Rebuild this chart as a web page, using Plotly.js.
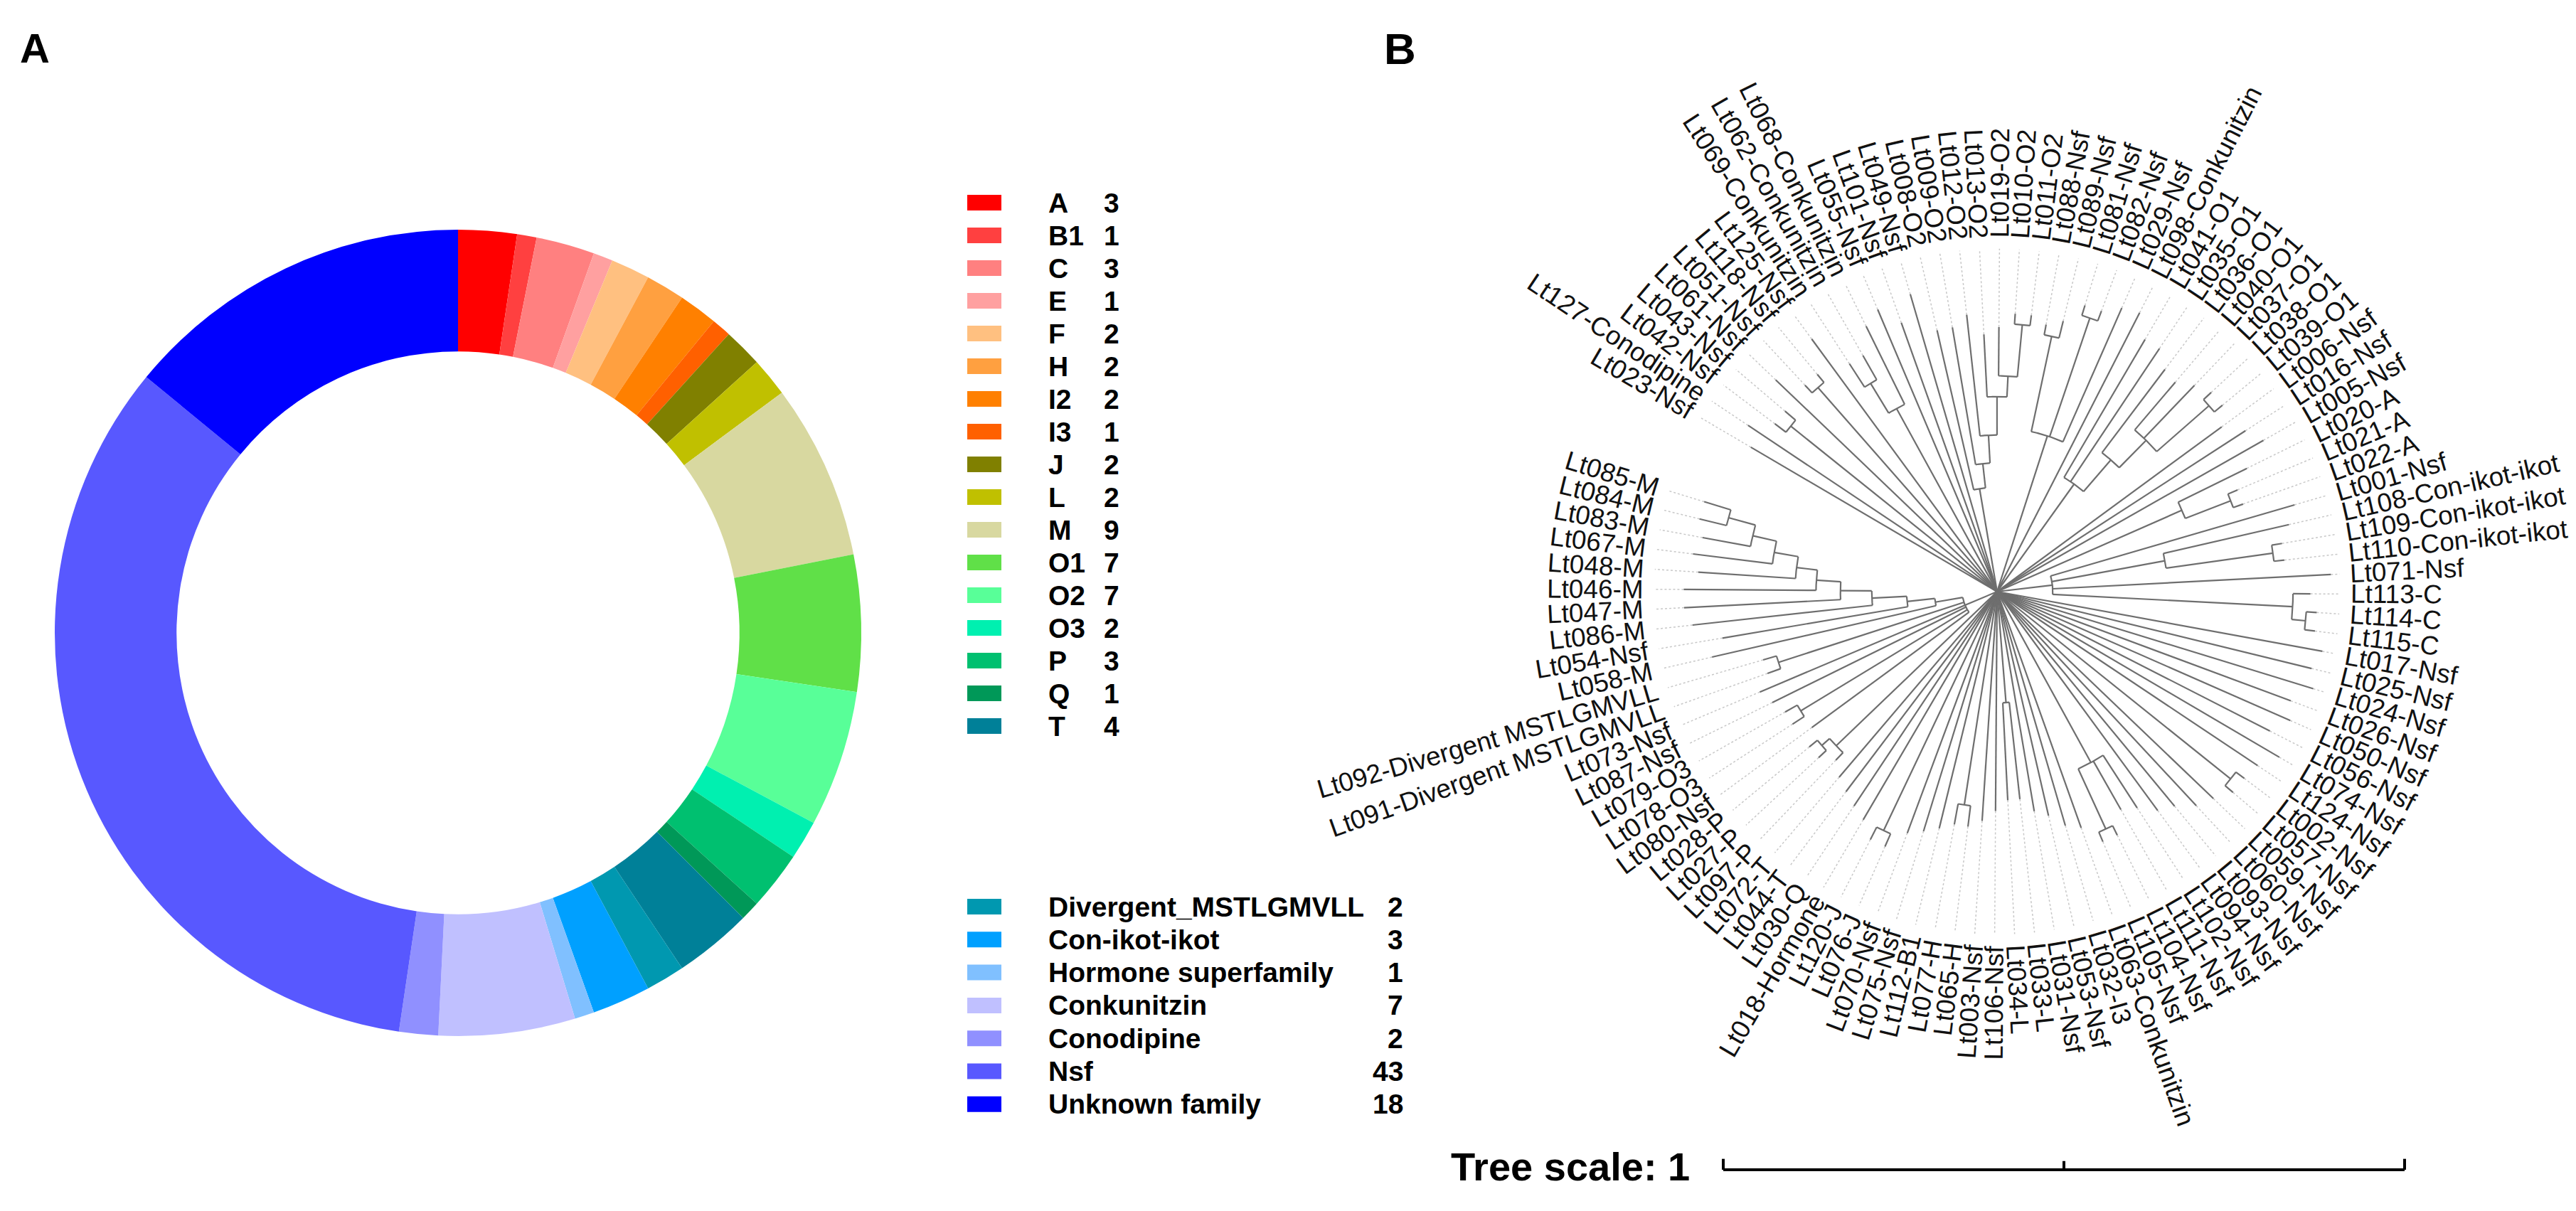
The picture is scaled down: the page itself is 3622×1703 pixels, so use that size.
<!DOCTYPE html>
<html><head><meta charset="utf-8">
<script src="https://cdn.plot.ly/plotly-3.0.1.min.js"></script>
<style>html,body{margin:0;padding:0;background:#fff}#chart{width:3622px;height:1703px}</style>
</head><body><div id="chart"></div>
<script>
// ---------------- Panel A data (donut) ----------------
const families = ["A","B1","C","E","F","H","I2","I3","J","L","M","O1","O2","O3","P","Q","T",
  "Divergent_MSTLGMVLL","Con-ikot-ikot","Hormone superfamily","Conkunitzin","Conodipine","Nsf","Unknown family"];
const counts = [3,1,3,1,2,2,2,1,2,2,9,7,7,2,3,1,4, 2,3,1,7,2,43,18];
const familyColors = ["#ff0000","#ff4040","#ff8080","#ffa0a0","#ffc080","#ffa040","#ff8000","#ff6000",
  "#808000","#c0c000","#d8d8a0","#60e048","#58ff98","#00f0b0","#00c070","#009858","#008098",
  "#0098b0","#00a0ff","#80c0ff","#c0c0ff","#9090ff","#5858ff","#0000ff"];
const firstBlockSize = 17;

// ---------------- Panel B data (tree) ----------------
const leafLabels = ["Lt023-Nsf","Lt127-Conodipine","Lt042-Nsf","Lt043-Nsf","Lt061-Nsf","Lt051-Nsf","Lt118-Nsf","Lt125-Nsf",
 "Lt069-Conkunitzin","Lt062-Conkunitzin","Lt068-Conkunitzin","Lt055-Nsf","Lt101-Nsf","Lt049-Nsf",
 "Lt008-O2","Lt009-O2","Lt012-O2","Lt013-O2","Lt019-O2","Lt010-O2","Lt011-O2",
 "Lt088-Nsf","Lt089-Nsf","Lt081-Nsf","Lt082-Nsf","Lt029-Nsf","Lt098-Conkunitzin",
 "Lt041-O1","Lt035-O1","Lt036-O1","Lt040-O1","Lt037-O1","Lt038-O1","Lt039-O1",
 "Lt006-Nsf","Lt016-Nsf","Lt005-Nsf","Lt020-A","Lt021-A","Lt022-A","Lt001-Nsf",
 "Lt108-Con-ikot-ikot","Lt109-Con-ikot-ikot","Lt110-Con-ikot-ikot","Lt071-Nsf","Lt113-C","Lt114-C","Lt115-C",
 "Lt017-Nsf","Lt025-Nsf","Lt024-Nsf","Lt026-Nsf","Lt050-Nsf","Lt056-Nsf","Lt074-Nsf","Lt124-Nsf",
 "Lt002-Nsf","Lt057-Nsf","Lt059-Nsf","Lt060-Nsf","Lt093-Nsf","Lt094-Nsf","Lt102-Nsf","Lt111-Nsf","Lt104-Nsf","Lt105-Nsf",
 "Lt063-Conkunitzin","Lt032-I3","Lt053-Nsf","Lt031-Nsf","Lt033-L","Lt034-L","Lt106-Nsf","Lt003-Nsf",
 "Lt065-H","Lt077-H","Lt112-B1","Lt075-Nsf","Lt070-Nsf","Lt076-J","Lt120-J","Lt018-Hormone",
 "Lt030-Q","Lt044-T","Lt072-T","Lt097-P","Lt027-P","Lt028-P","Lt080-Nsf","Lt078-O3","Lt079-O3",
 "Lt087-Nsf","Lt073-Nsf","Lt091-Divergent MSTLGMVLL","Lt092-Divergent MSTLGMVLL",
 "Lt058-M","Lt054-Nsf","Lt086-M","Lt047-M","Lt046-M","Lt048-M","Lt067-M","Lt083-M","Lt084-M","Lt085-M"];
// tip depth of each leaf, as a fraction of the label-circle radius
const tipDepth = [.82,.86,.80,.80,.88,.81,.81,.90,.78,.78,.85,.88,.82,.89,
 .77,.77,.80,.74,.76,.80,.80, .78,.80,.86,.86,.89,.90, .84,.84,.80,.79,.82,.84,.84,
 .80,.85,.88,.80,.75,.75,.89, .86,.83,.83,.96,.90,.92,.92, .95,.93,.95,.90,.92,.88,.94,.90,
 .89,.89,.86,.84,.80,.78,.74,.72,.78,.78, .72,.70,.66,.64,.60,.60,.63,.66,
 .68,.68,.70,.72,.74,.80,.80,.76, .74,.72,.70,.67,.70,.70,.66,.70,.70,
 .72,.74,.70,.70, .84,.80,.88,.90,.90,.86,.88,.86,.88,.88];
// internal nodes: [first leaf, last leaf, node depth (fraction of label radius)]
const clades = [[2,3,.76],[5,6,.78],[8,9,.70],[8,10,.60],
 [14,20,.30],[15,20,.37],[16,20,.45],[17,20,.56],[18,20,.62],[19,20,.77],
 [21,22,.75],[23,24,.83],[21,25,.47],
 [27,33,.38],[29,33,.50],[30,33,.61],[32,33,.81],
 [37,39,.58],[38,39,.72],[41,43,.49],[42,43,.80],[45,47,.85],[46,47,.89],[40,47,.16],
 [56,57,.86],[64,65,.75],[62,65,.56],
 [70,71,.32],[74,75,.62],[79,80,.76],[86,87,.67],[85,87,.64],[89,90,.66],[93,94,.66],
 [95,104,.18],[96,104,.26],[97,104,.36],[98,104,.45],[99,104,.52],[100,104,.58],[101,104,.65],[102,104,.72],[103,104,.80],
 [88,104,.10]];
const treeScale = 1;

// ---------------- layout constants ----------------
const W = 3622, H = 1703;
const treeCenterPx = [2808, 832];
const pxPerUnit = 958;           // length of the tree-scale bar
const labelRadius = 0.511;       // tree units
const arcDegrees = 350, startAngle = 149.6;
const labelFontPx = 37;

// ---------------- donut ----------------
const donutC = [644, 890], donutR = 567;
const pie = {
  type:'pie', labels:families, values:counts, sort:false, direction:'clockwise', rotation:0,
  hole:0.698, textinfo:'none', hoverinfo:'skip',
  marker:{colors:familyColors, line:{width:0}},
  domain:{x:[(donutC[0]-donutR)/W,(donutC[0]+donutR)/W], y:[(H-donutC[1]-donutR)/H,(H-donutC[1]+donutR)/H]}
};

// ---------------- tree geometry ----------------
const N = leafLabels.length, step = arcDegrees / N;
const ang = leafLabels.map((_,i)=>startAngle - i*step);
const R = labelRadius;
const cl = clades.map(([a,b,r],k)=>({a,b,r,k,size:b-a}));
function parentOfRange(a,b,self){
  let best=null;
  cl.forEach(c=>{ if(c===self) return; if(c.a<=a && c.b>=b && (c.size>(self?self.size:-1)) && !(self && c.a===self.a && c.b===self.b)){
      if(!best || c.size<best.size) best=c; }});
  return best;
}
cl.forEach(c=>{ c.parent = parentOfRange(c.a,c.b,c); });
const leafParent = ang.map((_,i)=>parentOfRange(i,i,null));
[...cl].sort((p,q)=>p.size-q.size).forEach(c=>{
  const ch=[];
  for(let i=c.a;i<=c.b;i++) if(leafParent[i]===c) ch.push(ang[i]);
  cl.forEach(d=>{ if(d.parent===c) ch.push(d.angle); });
  c.min=Math.min(...ch); c.max=Math.max(...ch); c.angle=(c.min+c.max)/2;
});
const bx=[], by=[], lx=[], ly=[];
const rad = t=>t*Math.PI/180;
function seg(X,Y,r1,r2,t){ X.push(r1*R*Math.cos(rad(t)), r2*R*Math.cos(rad(t)), null); Y.push(r1*R*Math.sin(rad(t)), r2*R*Math.sin(rad(t)), null); }
function arc(r,t1,t2){ const n=Math.max(2,Math.ceil(Math.abs(t2-t1)/0.4)+1);
  for(let j=0;j<n;j++){ const t=t1+(t2-t1)*j/(n-1); bx.push(r*R*Math.cos(rad(t))); by.push(r*R*Math.sin(rad(t))); }
  bx.push(null); by.push(null); }
ang.forEach((t,i)=>{ const p=leafParent[i]; seg(bx,by,p?p.r:0,tipDepth[i],t);
  if(tipDepth[i]<0.975) seg(lx,ly,tipDepth[i],0.985,t); });
cl.forEach(c=>{ seg(bx,by,c.parent?c.parent.r:0,c.r,c.angle); arc(c.r,c.min,c.max); });

const branches = {type:'scatter',mode:'lines',x:bx,y:by,xaxis:'x2',yaxis:'y2',hoverinfo:'skip',
  line:{color:'#6e6e6e',width:2.2}};
const leaders = {type:'scatter',mode:'lines',x:lx,y:ly,xaxis:'x2',yaxis:'y2',hoverinfo:'skip',
  line:{color:'#c8c8c8',width:1.5,dash:'dot'}};

// scale bar (tree units)
const sbX0 = (2423-treeCenterPx[0])/pxPerUnit, sbY = (treeCenterPx[1]-1645)/pxPerUnit, tick=0.016;
const scaleBar = {type:'scatter',mode:'lines',xaxis:'x2',yaxis:'y2',hoverinfo:'skip',line:{color:'#000',width:4},
  x:[sbX0,sbX0+treeScale,null,sbX0,sbX0,null,sbX0+treeScale/2,sbX0+treeScale/2,null,sbX0+treeScale,sbX0+treeScale],
  y:[sbY,sbY,null,sbY,sbY+tick,null,sbY,sbY+tick*0.8,null,sbY,sbY+tick]};

// ---------------- annotations ----------------
const ann=[], shapes=[];
const ctx=document.createElement('canvas').getContext('2d');
ctx.font = labelFontPx+'px "Liberation Sans", Arial, sans-serif';
leafLabels.forEach((lab,i)=>{
  const w=ctx.measureText(lab).width;
  const rc=R+(8+w/2)/pxPerUnit;
  let t=((ang[i]%360)+540)%360-180;
  let ta = Math.abs(t)<=90 ? -t : 180-t;
  ta=((ta+540)%360)-180;
  ann.push({xref:'x2',yref:'y2',x:rc*Math.cos(rad(ang[i])),y:rc*Math.sin(rad(ang[i])),text:lab,textangle:ta,
    showarrow:false,xanchor:'center',yanchor:'middle',borderpad:0,
    font:{family:'"Liberation Sans", Arial, sans-serif',size:labelFontPx,color:'#111'}});
});
// legend blocks
const legFont={family:'"Liberation Sans", Arial, sans-serif',size:39,color:'#000',weight:'bold'};
families.forEach((f,i)=>{
  const top = i<firstBlockSize;
  const y = top ? 285+46*i : 1275+46.3*(i-firstBlockSize);
  shapes.push({type:'rect',xref:'x',yref:'y',x0:1360,x1:1408,y0:y-11,y1:y+11,fillcolor:familyColors[i],line:{width:0}});
  ann.push({xref:'x',yref:'y',x:1472,y:y,text:'<b>'+f+'</b>',showarrow:false,xanchor:'left',yanchor:'middle',font:legFont});
  ann.push({xref:'x',yref:'y',x: top?1550:1975,y:y,text:'<b>'+counts[i]+'</b>',showarrow:false,xanchor: top?'left':'right',yanchor:'middle',font:legFont});
});
ann.push({xref:'x',yref:'y',x:26,y:67,text:'<b>A</b>',showarrow:false,xanchor:'left',yanchor:'middle',
  font:{family:'"Liberation Sans", Arial, sans-serif',size:58,color:'#000'}});
ann.push({xref:'x',yref:'y',x:1944,y:68,text:'<b>B</b>',showarrow:false,xanchor:'left',yanchor:'middle',
  font:{family:'"Liberation Sans Narrow", "Liberation Sans", Arial, sans-serif',size:62,color:'#000'}});
ann.push({xref:'x',yref:'y',x:2378,y:1640,text:'<b>Tree scale: '+treeScale+'</b>',showarrow:false,xanchor:'right',yanchor:'middle',
  font:{family:'"Liberation Sans Narrow", "Liberation Sans", Arial, sans-serif',size:56,color:'#000'}});

const axOff={visible:false,showgrid:false,zeroline:false,fixedrange:true};
const layout={width:W,height:H,margin:{l:0,r:0,t:0,b:0},paper_bgcolor:'#fff',plot_bgcolor:'rgba(0,0,0,0)',showlegend:false,
  xaxis:Object.assign({domain:[0,1],range:[0,W],anchor:'y'},axOff),
  yaxis:Object.assign({domain:[0,1],range:[H,0],anchor:'x'},axOff),
  xaxis2:Object.assign({domain:[0,1],range:[-treeCenterPx[0]/pxPerUnit,(W-treeCenterPx[0])/pxPerUnit],anchor:'y2'},axOff),
  yaxis2:Object.assign({domain:[0,1],range:[-(H-treeCenterPx[1])/pxPerUnit,treeCenterPx[1]/pxPerUnit],anchor:'x2'},axOff),
  annotations:ann,shapes:shapes};
const dummy={type:'scatter',mode:'markers',x:[0],y:[0],xaxis:'x',yaxis:'y',marker:{opacity:0},hoverinfo:'skip'};
Plotly.newPlot('chart',[dummy,leaders,branches,scaleBar,pie],layout,{staticPlot:true,displayModeBar:false});
</script></body></html>
